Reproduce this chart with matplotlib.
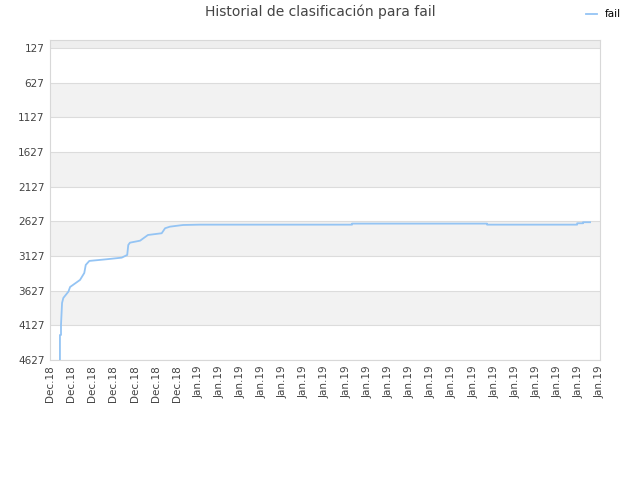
import numpy as np
import matplotlib.pyplot as plt

# datos (x en unidades de etiqueta, posicion = ranking)
x_vals = [0.47, 0.47, 0.52, 0.52, 0.57, 0.63, 0.87, 0.95, 1.42, 1.62, 1.69, 1.86,
          2.68, 3.39, 3.65, 3.70, 3.78, 4.26, 4.63, 5.28, 5.44, 5.67, 6.29, 7.09,
          14.28, 14.28, 20.66, 20.66, 24.92, 24.92, 25.2, 25.2, 25.53]
rank = [4627, 4266, 4266, 4121, 3804, 3732, 3641, 3574, 3472, 3372, 3256, 3198,
        3174, 3151, 3112, 2968, 2935, 2906, 2824, 2799, 2727, 2704, 2680, 2675,
        2675, 2660, 2660, 2675, 2675, 2655, 2655, 2640, 2640]

etiquetas_x = ['Dec.18'] * 7 + ['Jan.19'] * 20
ticks_y = [127, 627, 1127, 1627, 2127, 2627, 3127, 3627, 4127, 4627]

fig = plt.figure(figsize=(6.4, 4.8), dpi=100)
ax = fig.add_axes([50 / 640, 120 / 480, 550 / 640, 320 / 480])

y_top = 12
ax.set_ylim(4627, y_top)
ax.set_xlim(0, len(etiquetas_x) - 1)

# bandas alternas
limites = [y_top] + ticks_y
for i in range(len(limites) - 1):
    if (len(limites) - 2 - i) % 2 == 1:
        cor = '#eeeeee' if i == 0 else '#f2f2f2'
        ax.axhspan(limites[i], limites[i + 1], color=cor, zorder=0, lw=0)
for t in ticks_y:
    ax.axhline(t, color='#dcdcdc', lw=0.8, zorder=1)

ax.plot(x_vals, rank, color='#94c4f4', lw=1.3, label='fail', zorder=3)

ax.set_yticks(ticks_y)
ax.set_yticklabels([str(t) for t in ticks_y])
ax.set_xticks(range(len(etiquetas_x)))
ax.set_xticklabels(etiquetas_x, rotation=90)
ax.tick_params(length=0, labelsize=7.5, labelcolor='#444444', pad=4)

for s in ax.spines.values():
    s.set_color('#d8d8d8')

fig.suptitle('Historial de clasificación para fail', x=0.5, y=0.99, fontsize=10, color='#444444')
fig.legend(loc='upper right', bbox_to_anchor=(0.985, 1.0), frameon=False, fontsize=7.5,
           handlelength=1.0)

fig.savefig('out.png', dpi=100)
